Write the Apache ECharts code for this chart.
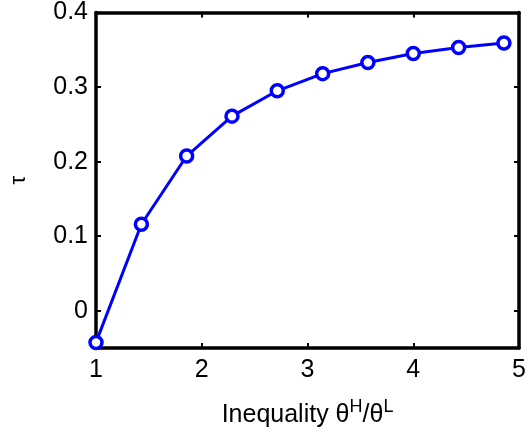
<!DOCTYPE html>
<html>
<head>
<meta charset="utf-8">
<script src="https://cdn.jsdelivr.net/npm/echarts@6/dist/echarts.min.js"></script>
<style>
  html, body { margin: 0; padding: 0; background: #fff; }
  #chart { width: 529px; height: 433px; }
</style>
</head>
<body>
<div id="chart"></div>
<script>
  // inequality ratio theta^H / theta^L
  const ratio = [1, 1.429, 1.857, 2.286, 2.714, 3.143, 3.571, 4.0, 4.429, 4.857];
  // tau
  const tau = [-0.0425, 0.116, 0.2075, 0.261, 0.295, 0.318, 0.333, 0.345, 0.353, 0.359];
  const xTicks = [1, 2, 3, 4, 5];
  const yTicks = [0, 0.1, 0.2, 0.3, 0.4];

  const font = "Liberation Sans";
  const axisColor = "#000";

  const chart = echarts.init(document.getElementById("chart"));

  const boxAxis = {
    axisLine: { show: true, onZero: false, lineStyle: { color: axisColor, width: 3.5 } },
    axisTick: { show: true, inside: true, length: 5, lineStyle: { color: axisColor, width: 2 } },
    splitLine: { show: false },
  };

  chart.setOption({
    animation: false,
    grid: { left: 87, right: 9, top: 12, bottom: 80 },
    xAxis: [
      {
        ...boxAxis,
        type: "value",
        min: 1,
        max: 5,
        interval: 1,
        axisTick: { ...boxAxis.axisTick, customValues: xTicks },
        axisLabel: { color: "#000", fontFamily: font, fontSize: 25, margin: 10, customValues: xTicks },
        name: "{a|Inequality θ}{s|H}{a|/θ}{s|L}",
        nameLocation: "middle",
        nameGap: 50,
        nameTextStyle: {
          rich: {
            a: { fontFamily: font, fontSize: 25, color: "#000", verticalAlign: "bottom", lineHeight: 30 },
            s: { fontFamily: font, fontSize: 18, color: "#000", verticalAlign: "top", lineHeight: 30 },
          },
        },
      },
      {
        ...boxAxis,
        type: "value",
        position: "top",
        min: 1,
        max: 5,
        interval: 1,
        axisLabel: { show: false },
      },
    ],
    yAxis: [
      {
        ...boxAxis,
        type: "value",
        min: -0.05,
        max: 0.4,
        axisTick: { ...boxAxis.axisTick, customValues: yTicks },
        axisLabel: { color: "#000", fontFamily: font, fontSize: 25, margin: 8, customValues: yTicks },
        name: "τ",
        nameLocation: "middle",
        nameGap: 66,
        nameTextStyle: { color: "#000", fontFamily: font, fontSize: 22 },
      },
      {
        ...boxAxis,
        type: "value",
        position: "right",
        min: -0.05,
        max: 0.4,
        axisTick: { ...boxAxis.axisTick, customValues: yTicks },
        axisLabel: { show: false },
      },
    ],
    series: [
      {
        type: "line",
        data: ratio.map((x, i) => [x, tau[i]]),
        clip: false,
        symbol: "circle",
        symbolSize: 12,
        lineStyle: { color: "#0000ff", width: 3 },
        itemStyle: { color: "#ffffff", borderColor: "#0000ff", borderWidth: 3.5 },
      },
    ],
  });
</script>
</body>
</html>
